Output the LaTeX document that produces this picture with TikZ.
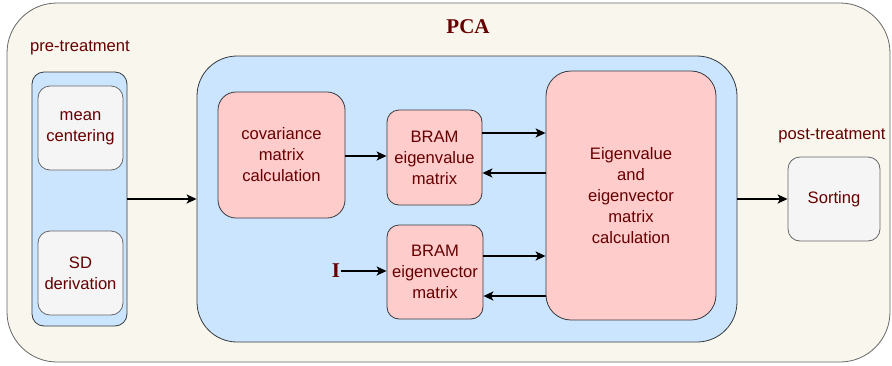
\documentclass[tikz,border=0pt]{standalone}
\usepackage{fontspec}
\setmainfont{Liberation Sans}
\newfontfamily\serifbf{Liberation Serif}
\usetikzlibrary{arrows.meta,calc}
\definecolor{txt}{RGB}{102,0,0}
\definecolor{beige}{HTML}{F9F7ED}
\definecolor{bluef}{HTML}{CCE5FF}
\definecolor{redf}{HTML}{FFCCCC}
\definecolor{greyf}{HTML}{F5F5F5}
\definecolor{strk}{HTML}{36393D}
\definecolor{greys}{HTML}{666666}
\tikzset{
  box/.style={draw=strk, line width=0.8pt, inner sep=2pt, align=center,
    text=txt, font=\fontsize{16.6}{21}\selectfont},
  bluebox/.style={box, fill=bluef},
  redbox/.style={box, fill=redf},
  greybox/.style={box, fill=greyf, draw=greys},
  lbl/.style={text=txt, font=\fontsize{16.6}{20}\selectfont, inner sep=0pt},
  arr/.style={-{Stealth[length=10pt,width=9pt,inset=2.5pt]}, line width=1.8pt, black},
}
\begin{document}
\begin{tikzpicture}[x=1pt,y=-1pt]
\useasboundingbox (0,0) rectangle (892,365);
\node[box, fill=beige, draw=greys, rounded corners=50pt, minimum width=883pt, minimum height=359pt] (outer) at (448.5,182.5) {};
\node[text=txt, font=\serifbf\bfseries\fontsize{21}{24}\selectfont, inner sep=0pt] (pca) at (468,27) {PCA};
\node[lbl] (prelbl) at (80,48) {pre-treatment};
\node[lbl] (postlbl) at (832,136) {post-treatment};
\node[bluebox, rounded corners=12pt, minimum width=95pt, minimum height=254pt] (pre) at (79.5,199) {};
\node[greybox, rounded corners=12pt, minimum width=85pt, minimum height=84pt] (mean) at (80.5,128) {mean\\centering};
\node[greybox, rounded corners=12pt, minimum width=85pt, minimum height=84pt] (sd) at (80.5,273) {SD\\derivation};
\node[bluebox, rounded corners=40pt, minimum width=540pt, minimum height=286pt] (big) at (467,199) {};
\node[redbox, rounded corners=18pt, minimum width=127pt, minimum height=126pt] (cov) at (281.5,155) {covariance\\matrix\\calculation};
\node[redbox, rounded corners=12pt, minimum width=95pt, minimum height=95pt] (beval) at (434.5,157.5) {BRAM\\eigenvalue\\matrix};
\node[redbox, rounded corners=12pt, minimum width=96pt, minimum height=94pt] (bevec) at (435,272) {BRAM\\eigenvector\\matrix};
\node[redbox, rounded corners=25pt, minimum width=170pt, minimum height=249pt] (eig) at (631,195.5) {Eigenvalue\\and\\eigenvector\\matrix\\calculation};
\node[greybox, rounded corners=12pt, minimum width=92pt, minimum height=84pt] (sort) at (834,199) {Sorting};
\node[text=txt, font=\serifbf\bfseries\fontsize{21}{24}\selectfont, inner sep=1pt] (I) at (336,271) {I};
\path ($(cov.east)+(0,1)$) coordinate (c1);
\path ($(beval.east)+(0,-24.5)$) coordinate (e1);
\path ($(beval.east)+(0,15.5)$) coordinate (e2);
\path ($(bevec.east)+(0,-16)$) coordinate (v1);
\path ($(bevec.east)+(0,24)$) coordinate (v2);
\draw[arr] (pre.east) -- (big.west);
\draw[arr] (c1) -- (c1 -| beval.west);
\draw[arr] (e1) -- (e1 -| eig.west);
\draw[arr] (e2 -| eig.west) -- (e2);
\draw[arr] (v1) -- (v1 -| eig.west);
\draw[arr] (v2 -| eig.west) -- (v2);
\draw[arr] (I.east) -- (I.east -| bevec.west);
\draw[arr] (big.east) -- (sort.west);
\end{tikzpicture}
\end{document}
